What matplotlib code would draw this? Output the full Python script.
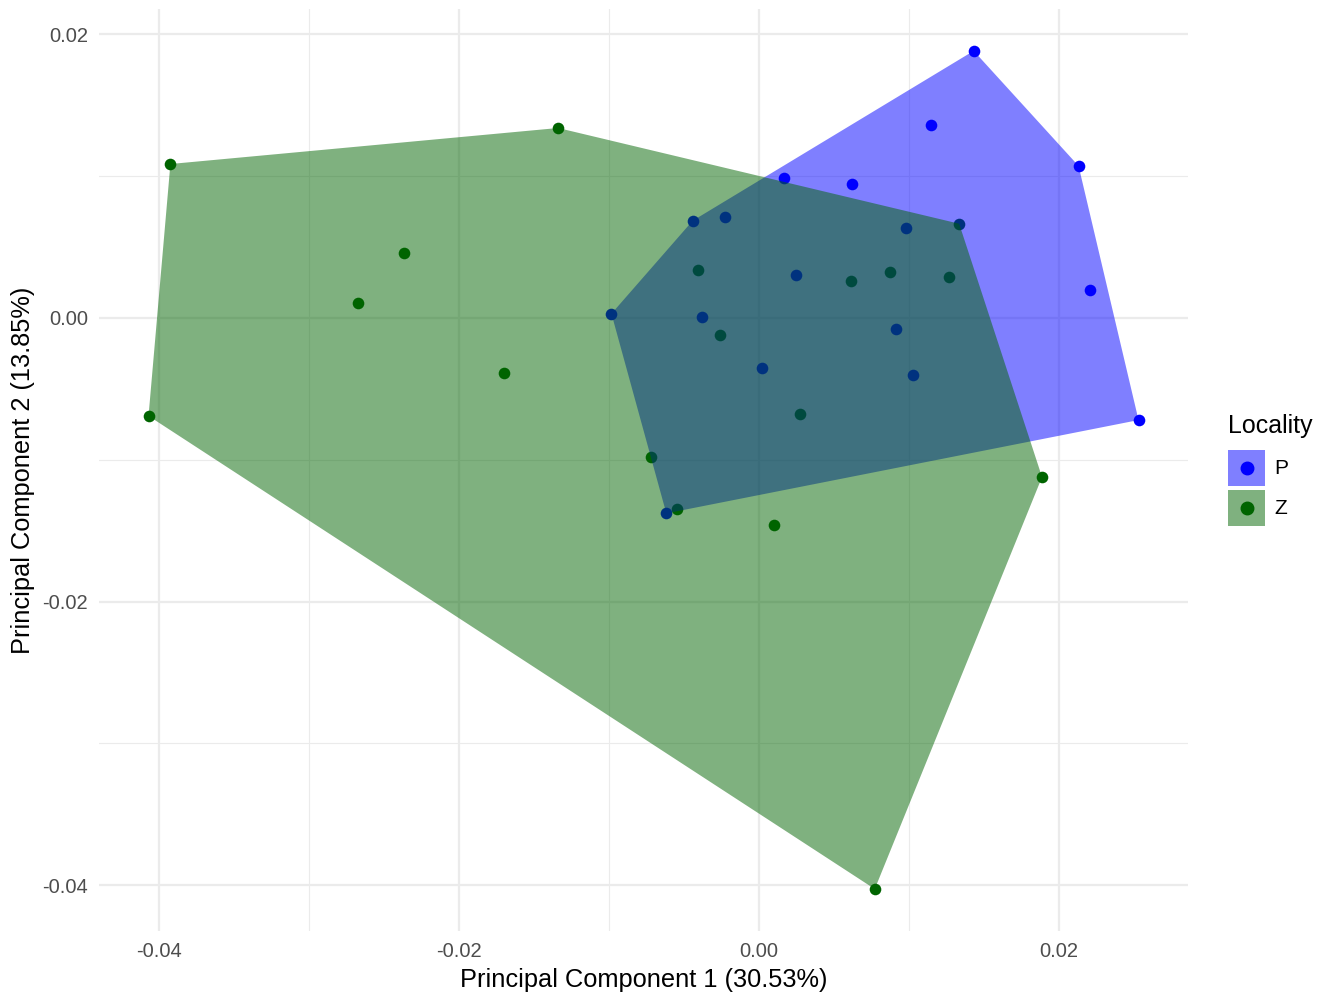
import matplotlib.pyplot as plt
import numpy as np
from matplotlib.patches import Patch, Polygon
from matplotlib.lines import Line2D
from matplotlib.legend_handler import HandlerLine2D

plt.rcParams['font.family'] = ['Liberation Sans', 'DejaVu Sans']

# PCA scores
p_pc1 = [0.01433, 0.01147, 0.02133, 0.00167, 0.0062, 0.02207, 0.02533,
         -0.00442, -0.00224, 0.00984, 0.00244, -0.00984, -0.00382, 0.00916,
         0.0002, 0.01031, -0.00618]
p_pc2 = [0.01884, 0.01362, 0.01072, 0.00988, 0.00945, 0.00198, -0.0072,
         0.00686, 0.0071, 0.00635, 0.00303, 0.0003, 0.00009, -0.00075,
         -0.00353, -0.004, -0.01378]

z_pc1 = [0.01336, -0.00409, 0.00616, 0.00873, 0.01267, -0.00262, 0.00276,
         -0.0072, -0.00549, 0.001, 0.01889, -0.03927, -0.0134, -0.02367,
         -0.02673, -0.017, -0.04073, 0.00773]
z_pc2 = [0.00665, 0.00341, 0.00263, 0.00322, 0.00289, -0.00118, -0.00677,
         -0.00981, -0.01347, -0.0146, -0.01122, 0.01086, 0.0134, 0.00459,
         0.00106, -0.00388, -0.00691, -0.04028]

groups = ['P', 'Z']
colors = {'P': 'blue', 'Z': 'darkgreen'}
data = {'P': (p_pc1, p_pc2), 'Z': (z_pc1, z_pc2)}


def convex_hull(xs, ys):
    pts = sorted(set(zip(xs, ys)))

    def cross(o, a, b):
        return (a[0]-o[0])*(b[1]-o[1]) - (a[1]-o[1])*(b[0]-o[0])
    lower, upper = [], []
    for p in pts:
        while len(lower) >= 2 and cross(lower[-2], lower[-1], p) <= 0:
            lower.pop()
        lower.append(p)
    for p in reversed(pts):
        while len(upper) >= 2 and cross(upper[-2], upper[-1], p) <= 0:
            upper.pop()
        upper.append(p)
    return np.array(lower[:-1] + upper[:-1])


# legend dot centred in the key box
class CenteredLine(HandlerLine2D):
    def create_artists(self, legend, orig_handle, xdescent, ydescent,
                       width, height, fontsize, trans):
        arts = super().create_artists(legend, orig_handle, xdescent, ydescent,
                                      width, height, fontsize, trans)
        for a in arts:
            a.set_ydata([height / 2 - ydescent] * len(a.get_xdata()))
        return arts


fig = plt.figure(figsize=(13.31, 9.96), dpi=100)
ax = fig.add_axes([0.0744, 0.0653, 0.8182, 0.9257])

# points first, hulls drawn over them (as in the original)
for g in groups:
    ax.scatter(data[g][0], data[g][1], s=70, color=colors[g], zorder=2, linewidths=0)
for g in groups:
    hull = convex_hull(*data[g])
    ax.add_patch(Polygon(hull, closed=True, facecolor=colors[g], alpha=0.5,
                         edgecolor='none', zorder=3))

# ggplot style 5% expansion
allx = p_pc1 + z_pc1
ally = p_pc2 + z_pc2
dx = (max(allx) - min(allx)) * 0.05
dy = (max(ally) - min(ally)) * 0.05
ax.set_xlim(min(allx) - dx, max(allx) + dx)
ax.set_ylim(min(ally) - dy, max(ally) + dy)

ax.set_xticks([-0.04, -0.02, 0.0, 0.02])
ax.set_xticklabels(['-0.04', '-0.02', '0.00', '0.02'])
ax.set_yticks([-0.04, -0.02, 0.0, 0.02])
ax.set_yticklabels(['-0.04', '-0.02', '0.00', '0.02'])
ax.set_xticks([-0.03, -0.01, 0.01], minor=True)
ax.set_yticks([-0.03, -0.01, 0.01], minor=True)
ax.grid(which='major', color='#ebebeb', linewidth=1.6, zorder=0)
ax.grid(which='minor', color='#ebebeb', linewidth=0.8, zorder=0)
ax.set_axisbelow(True)
ax.tick_params(which='both', length=0, labelsize=14.5, labelcolor='#4d4d4d', pad=8)
for s in ax.spines.values():
    s.set_visible(False)

ax.set_xlabel('Principal Component 1 (30.53%)', fontsize=18.3, labelpad=5)
ax.set_ylabel('Principal Component 2 (13.85%)', fontsize=18.3, labelpad=5)

dots = [Line2D([], [], marker='o', color=colors[g], linestyle='', markersize=9)
        for g in groups]
handles = [(Patch(facecolor=colors[g], alpha=0.5, edgecolor='none'), d)
           for g, d in zip(groups, dots)]
leg = fig.legend(handles, groups, title='Locality', loc='center left',
                 bbox_to_anchor=(0.9166, 0.528), frameon=False, fontsize=15,
                 title_fontsize=18, handlelength=1.75, handleheight=2.28,
                 handletextpad=0.47, labelspacing=0.2, borderaxespad=0,
                 handler_map={d: CenteredLine() for d in dots})
leg._legend_box.align = 'left'
leg._legend_box.sep = 8

fig.savefig('out.png', dpi=100)
